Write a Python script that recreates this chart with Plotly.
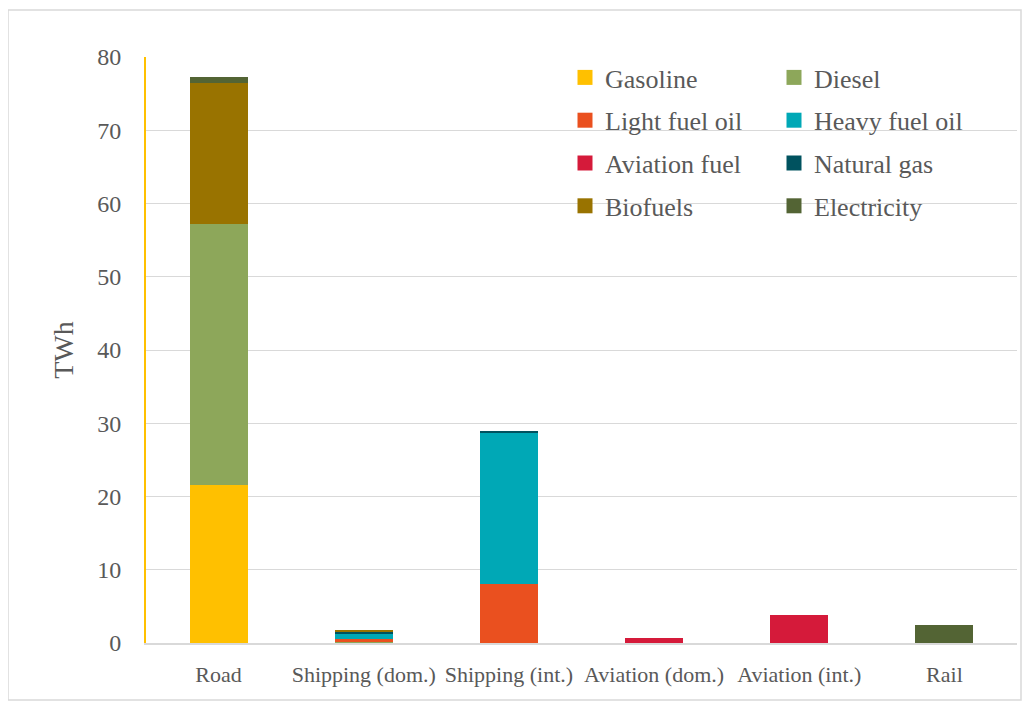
import plotly.graph_objects as go

categories = ["Road", "Shipping (dom.)", "Shipping (int.)", "Aviation (dom.)", "Aviation (int.)", "Rail"]

gasoline = [21.6, 0.05, 0, 0, 0, 0]
diesel = [35.6, 0.2, 0, 0, 0, 0.05]
light_fuel_oil = [0, 0.25, 8.0, 0, 0, 0]
heavy_fuel_oil = [0, 0.85, 20.8, 0, 0, 0]
aviation_fuel = [0, 0, 0, 0.65, 3.85, 0]
natural_gas = [0, 0.2, 0.15, 0, 0, 0]
biofuels = [19.2, 0.2, 0, 0, 0, 0]
electricity = [0.85, 0, 0, 0, 0, 2.45]

series = [
    ("Gasoline", gasoline, "#FFC000", "legend"),
    ("Diesel", diesel, "#8DA75A", "legend2"),
    ("Light fuel oil", light_fuel_oil, "#EA501F", "legend"),
    ("Heavy fuel oil", heavy_fuel_oil, "#00A8B6", "legend2"),
    ("Aviation fuel", aviation_fuel, "#D51A3A", "legend"),
    ("Natural gas", natural_gas, "#00525F", "legend2"),
    ("Biofuels", biofuels, "#997300", "legend"),
    ("Electricity", electricity, "#536434", "legend2"),
]

FONT = "Palatino Linotype, Book Antiqua, Palatino, Liberation Serif, serif"
TXT = "#595959"

fig = go.Figure()
for name, vals, color, lg in series:
    fig.add_trace(go.Bar(x=categories, y=vals, name=name, marker_color=color,
                         marker_line_width=0, showlegend=False))
for name, vals, color, lg in series:
    fig.add_trace(go.Scatter(x=[None], y=[None], mode="markers", name=name,
                             marker=dict(symbol="square", size=15, color=color),
                             legend=lg, legendgroup=name, showlegend=True))

# page is offset by the 8px body margin
OFF = 8
W, H = 1032 - OFF, 706 - OFF
L, T = 146 - OFF, 57 - OFF
R = W - (1017 - OFF)
B = H - (643 - OFF)
pw, ph = W - L - R, H - T - B

def px_x(p):
    return (p - OFF - L) / pw

def px_y(p):
    return (H - B - (p - OFF)) / ph

fig.update_layout(
    width=W, height=H,
    margin=dict(l=L, r=R, t=T, b=B),
    barmode="stack", bargap=0.6,
    plot_bgcolor="white", paper_bgcolor="white",
    font=dict(family=FONT, color=TXT),
    xaxis=dict(showgrid=False, showline=True, linecolor="#D9D9D9", linewidth=2,
               tickfont=dict(size=22, color=TXT), ticklabelstandoff=11),
    yaxis=dict(range=[0, 80], dtick=10, showgrid=True, gridcolor="#D9D9D9", gridwidth=1,
               showline=True, linecolor="#FFC000", linewidth=2, zeroline=False,
               tickfont=dict(size=24, color=TXT), ticklabelstandoff=18,
               title=dict(text="TWh", font=dict(size=28, color=TXT), standoff=15)),
    legend=dict(x=px_x(565), y=px_y(54), xanchor="left", yanchor="top",
                bgcolor="rgba(0,0,0,0)", font=dict(size=26, color=TXT),
                tracegroupgap=6, itemwidth=30),
    legend2=dict(x=px_x(774), y=px_y(54), xanchor="left", yanchor="top",
                 bgcolor="rgba(0,0,0,0)", font=dict(size=26, color=TXT),
                 tracegroupgap=6, itemwidth=30),
    shapes=[dict(type="rect", xref="paper", yref="paper",
                 x0=px_x(8), x1=px_x(1021), y0=px_y(700), y1=px_y(10),
                 line=dict(color="#D9D9D9", width=1.5), fillcolor="rgba(0,0,0,0)", layer="below")],
)

fig.write_html("out.html")
